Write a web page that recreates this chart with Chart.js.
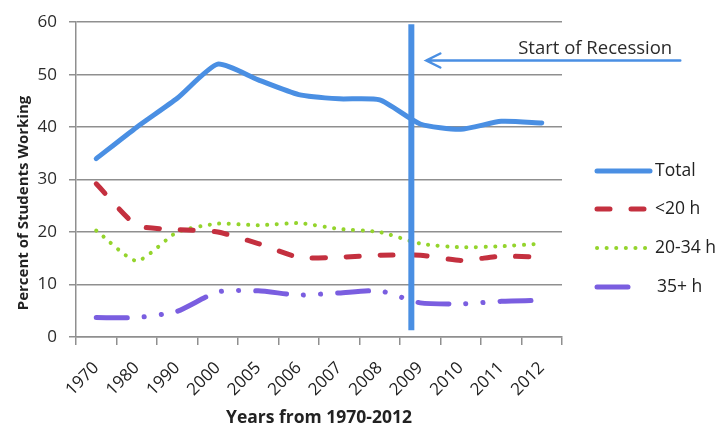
<!DOCTYPE html>
<html>
<head>
<meta charset="utf-8">
<title>Students Working 1970-2012</title>
<script src="https://cdn.jsdelivr.net/npm/chart.js@4.4.1/dist/chart.umd.min.js"></script>
<style>
    html, body { margin: 0; padding: 0; background: #fff; }
    #wrap { width: 723px; height: 430px; position: relative; }
</style>
</head>
<body>
<div id="wrap"><canvas id="myChart"></canvas></div>
<script>
// 年ごとのデータ（学生の就労率 %）
const years = ['1970', '1980', '1990', '2000', '2005', '2006', '2007', '2008', '2009', '2010', '2011', '2012'];
const total = [34, 40, 45.5, 52, 49, 46.2, 45.4, 45.2, 40.6, 39.6, 41.1, 40.8];
const under20 = [29.2, 21.3, 20.5, 20.0, 17.8, 15.2, 15.2, 15.6, 15.6, 14.6, 15.4, 15.2];
const from20to34 = [20.3, 14.5, 20.0, 21.6, 21.3, 21.7, 20.6, 20.0, 17.8, 17.1, 17.3, 17.8];
const over35 = [3.7, 3.7, 4.9, 8.6, 8.8, 8.0, 8.4, 8.8, 6.5, 6.3, 6.8, 7.0];
const yMin = 0, yMax = 60, yStep = 10;

// 景気後退の開始位置（カテゴリの番号で指定）
const recessionAt = 7.78;
const recessionLabel = 'Start of Recession';

const FONT = '"Open Sans", sans-serif';
const BLUE = '#4a8fe3';
const RED = '#c4303f';
const GREEN = '#94d42c';
const PURPLE = '#7a5ee0';
const GRID = '#8f8f8f';

function lineSet(label, data, color, width, dash) {
    return {
        label: label,
        data: data,
        borderColor: color,
        backgroundColor: color,
        borderWidth: width,
        borderDash: dash,
        borderCapStyle: 'round',
        borderJoinStyle: 'round',
        pointRadius: 0,
        tension: 0.2,
        fill: false
    };
}

// 縦線・矢印・凡例・軸タイトルを描くプラグイン
const overlayPlugin = {
    id: 'overlay',
    afterDatasetsDraw(chart) {
        const { ctx, scales: { x, y } } = chart;
        ctx.save();

        // 景気後退の縦線
        const lx = x.getPixelForValue(recessionAt);
        ctx.strokeStyle = BLUE;
        ctx.lineWidth = 6;
        ctx.lineCap = 'butt';
        ctx.setLineDash([]);
        ctx.beginPath();
        ctx.moveTo(lx, y.getPixelForValue(59.6));
        ctx.lineTo(lx, y.getPixelForValue(1.3));
        ctx.stroke();

        // 矢印
        const ay = y.getPixelForValue(52.7);
        const tipX = x.getPixelForValue(8.15);
        const tailX = x.getPixelForValue(14.42);
        ctx.lineWidth = 2.5;
        ctx.lineCap = 'round';
        ctx.beginPath();
        ctx.moveTo(tailX, ay);
        ctx.lineTo(tipX, ay);
        ctx.moveTo(tipX + 14, ay - 7);
        ctx.lineTo(tipX, ay);
        ctx.lineTo(tipX + 14, ay + 7);
        ctx.stroke();

        ctx.fillStyle = '#2b2b2b';
        ctx.font = '18.5px ' + FONT;
        ctx.textAlign = 'right';
        ctx.textBaseline = 'middle';
        ctx.fillText(recessionLabel, x.getPixelForValue(14.22), y.getPixelForValue(54.9));

        // 凡例
        const rows = [171, 209, 248, 287];
        chart.data.datasets.forEach((ds, i) => {
            const ry = rows[i];
            ctx.strokeStyle = ds.borderColor;
            ctx.lineWidth = ds.borderWidth;
            ctx.lineCap = 'round';
            ctx.setLineDash(ds.borderDash || []);
            ctx.beginPath();
            ctx.moveTo(597, ry);
            ctx.lineTo(i === 3 ? 632 : 650, ry);
            ctx.stroke();
            ctx.setLineDash([]);
            ctx.fillStyle = '#222';
            ctx.textAlign = 'left';
            ctx.font = '17.5px ' + FONT;
            ctx.fillText(ds.label, i === 3 ? 657 : 655, ry);
        });

        // 軸タイトル
        ctx.font = 'bold 17.5px ' + FONT;
        ctx.textAlign = 'center';
        ctx.fillText('Years from 1970-2012', (x.left + x.right) / 2, 418);
        ctx.font = 'bold 15px ' + FONT;
        ctx.translate(24, 203);
        ctx.rotate(-Math.PI / 2);
        ctx.fillText('Percent of Students Working', 0, 0);

        ctx.restore();
    }
};

document.addEventListener('DOMContentLoaded', () => {
    const ctx = document.getElementById('myChart').getContext('2d');
    new Chart(ctx, {
        type: 'line',
        data: {
            labels: years,
            datasets: [
                lineSet('Total', total, BLUE, 5, []),
                lineSet('<20 h', under20, RED, 5, [13, 21]),
                lineSet('20-34 h', from20to34, GREEN, 4, [0.1, 9.5]),
                lineSet('35+ h', over35, PURPLE, 5, [31, 17, 0.1, 17, 0.1, 17])
            ]
        },
        options: {
            responsive: true,
            maintainAspectRatio: false,
            animation: false,
            layout: { padding: { left: 0, right: 161, top: 21, bottom: 0 } },
            plugins: {
                legend: { display: false },
                tooltip: { enabled: false }
            },
            scales: {
                x: {
                    type: 'category',
                    offset: true,
                    grid: {
                        offset: true,
                        drawOnChartArea: false,
                        drawTicks: true,
                        tickLength: 8,
                        color: GRID,
                        lineWidth: 1.5
                    },
                    border: { color: GRID, width: 1.5 },
                    ticks: {
                        minRotation: 45,
                        maxRotation: 45,
                        padding: 13,
                        color: '#222',
                        font: { size: 17, family: FONT }
                    },
                    afterFit: (scale) => { scale.height = 93; }
                },
                y: {
                    min: yMin,
                    max: yMax,
                    ticks: {
                        stepSize: yStep,
                        padding: 12,
                        color: '#2b2b2b',
                        font: { size: 17, family: FONT }
                    },
                    grid: {
                        color: GRID,
                        lineWidth: 1.5,
                        tickLength: 7
                    },
                    border: { color: GRID, width: 1.5 },
                    afterFit: (scale) => { scale.width = 76; }
                }
            }
        },
        plugins: [overlayPlugin]
    });
});
</script>
</body>
</html>
